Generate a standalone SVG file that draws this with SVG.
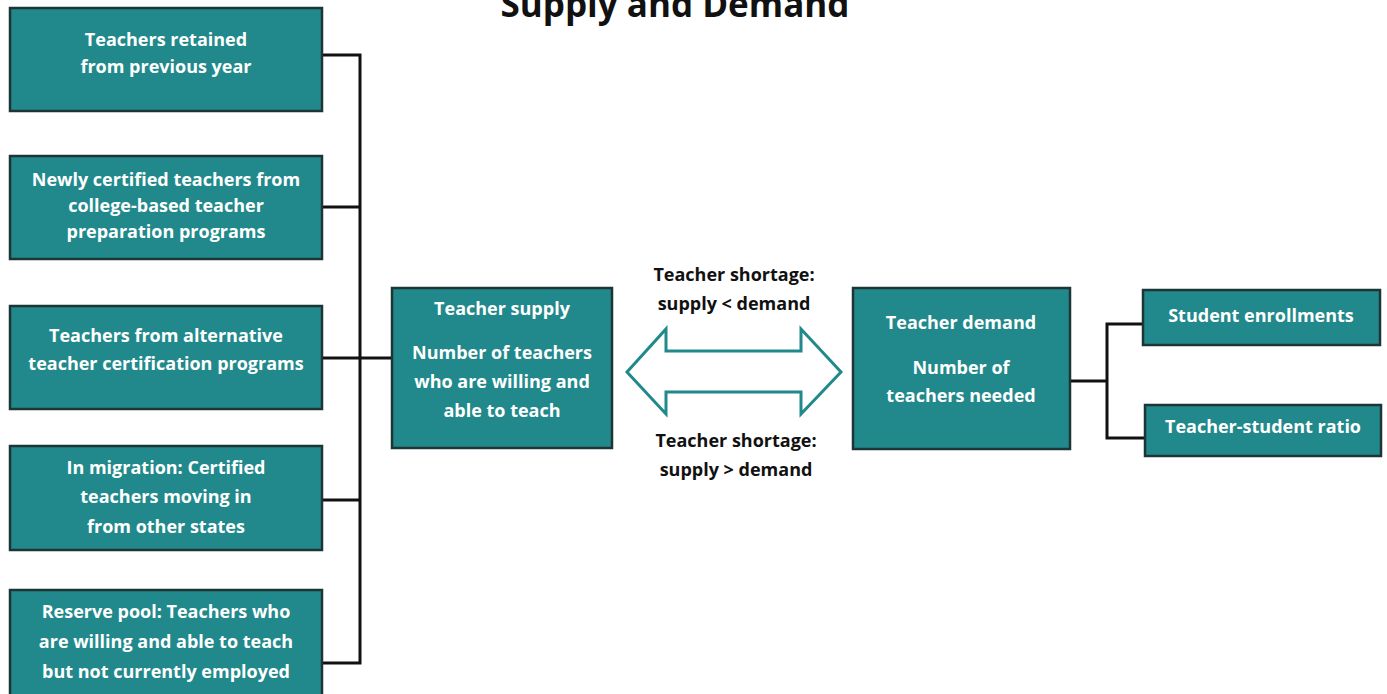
<svg xmlns="http://www.w3.org/2000/svg" width="1387" height="694" viewBox="0 0 1387 694">
  <style>
    .box { fill: #21898b; stroke: #1d3536; stroke-width: 2.5; }
    .lbl { font-family: "Open Sans", "Noto Sans", sans-serif; font-weight: bold; font-size: 18px; fill: #ffffff; text-anchor: middle; }
    .cap { font-family: "Open Sans", "Noto Sans", sans-serif; font-weight: bold; font-size: 18px; fill: #111111; text-anchor: middle; }
    .title { font-family: "Open Sans", "Noto Sans", sans-serif; font-weight: bold; font-size: 35px; fill: #111111; text-anchor: middle; }
    .wire { fill: none; stroke: #111111; stroke-width: 3; }
  </style>
  <rect width="1387" height="694" fill="#ffffff"/>

  <text class="title" x="675" y="17">Supply and Demand</text>

  <!-- connectors -->
  <g id="connectors">
    <path class="wire" d="M322 55 H360 V663 H322 M322 207 H360 M322 358 H392 M322 500 H360"/>
    <path class="wire" d="M1070 381 H1107 M1143 324 H1107 V438 H1145"/>
    <!-- two-headed comparison arrow -->
    <path d="M627 372 L666 329 V351 H801 V329 L841 372 L801 414 V392 H666 V414 Z" fill="#ffffff" stroke="#21898b" stroke-width="3" stroke-linejoin="miter"/>
  </g>

  <g id="retained">
    <rect class="box" x="10" y="8" width="312" height="103"/>
    <text class="lbl" x="166" y="46">Teachers retained</text>
    <text class="lbl" x="166" y="73">from previous year</text>
  </g>
  <g id="newly-certified">
    <rect class="box" x="10" y="156" width="312" height="103"/>
    <text class="lbl" x="166" y="186">Newly certified teachers from</text>
    <text class="lbl" x="166" y="212">college-based teacher</text>
    <text class="lbl" x="166" y="238">preparation programs</text>
  </g>
  <g id="alternative">
    <rect class="box" x="10" y="306" width="312" height="103"/>
    <text class="lbl" x="166" y="342">Teachers from alternative</text>
    <text class="lbl" x="166" y="370">teacher certification programs</text>
  </g>
  <g id="in-migration">
    <rect class="box" x="10" y="446" width="312" height="104"/>
    <text class="lbl" x="166" y="474">In migration: Certified</text>
    <text class="lbl" x="166" y="503">teachers moving in</text>
    <text class="lbl" x="166" y="533">from other states</text>
  </g>
  <g id="reserve-pool">
    <rect class="box" x="10" y="590" width="312" height="106"/>
    <text class="lbl" x="166" y="618">Reserve pool: Teachers who</text>
    <text class="lbl" x="166" y="648">are willing and able to teach</text>
    <text class="lbl" x="166" y="678">but not currently employed</text>
  </g>

  <g id="supply">
    <rect class="box" x="392" y="288" width="220" height="160"/>
    <text class="lbl" x="502" y="315">Teacher supply</text>
    <text class="lbl" x="502" y="359">Number of teachers</text>
    <text class="lbl" x="502" y="388">who are willing and</text>
    <text class="lbl" x="502" y="417">able to teach</text>
  </g>

  <g id="shortage-labels">
    <text class="cap" x="734" y="281">Teacher shortage:</text>
    <text class="cap" x="734" y="310">supply &lt; demand</text>
    <text class="cap" x="736" y="447">Teacher shortage:</text>
    <text class="cap" x="736" y="476">supply &gt; demand</text>
  </g>

  <g id="demand">
    <rect class="box" x="853" y="288" width="217" height="161"/>
    <text class="lbl" x="961" y="329">Teacher demand</text>
    <text class="lbl" x="961" y="374">Number of</text>
    <text class="lbl" x="961" y="402">teachers needed</text>
  </g>

  <g id="enrollments">
    <rect class="box" x="1143" y="290" width="237" height="55"/>
    <text class="lbl" x="1261" y="322">Student enrollments</text>
  </g>
  <g id="ratio">
    <rect class="box" x="1145" y="405" width="236" height="51"/>
    <text class="lbl" x="1263" y="433">Teacher-student ratio</text>
  </g>
</svg>
